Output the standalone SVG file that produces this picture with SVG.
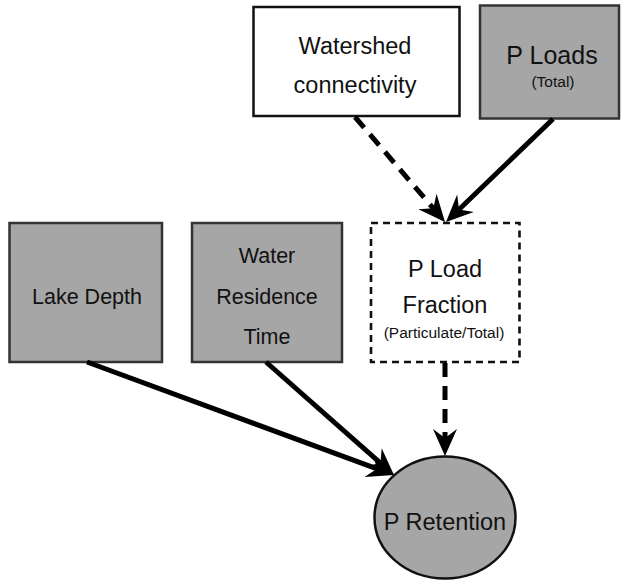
<svg xmlns="http://www.w3.org/2000/svg" width="622" height="580" viewBox="0 0 622 580">
  <style>
    .box { fill: #a6a6a6; stroke: #333; stroke-width: 2.5; }
    .plain { fill: #fff; stroke: #111; stroke-width: 2.5; }
    .dashedbox { fill: #fff; stroke: #111; stroke-width: 2.6; stroke-dasharray: 7 5; }
    .ellipse { fill: #a6a6a6; stroke: #111; stroke-width: 2.5; }
    .lbl { font-family: "Liberation Sans", Arial, Helvetica, sans-serif; fill: #111; text-anchor: middle; }
    .big { font-size: 23.5px; }
    .mid { font-size: 21.5px; }
    .small { font-size: 15.5px; }
    .link { fill: none; stroke: #000; stroke-width: 5; marker-end: url(#head); }
    .dash { stroke-dasharray: 14 9; }
  </style>
  <defs>
    <!-- notched arrowhead; reference point sits at the notch so the line ends inside the head -->
    <marker id="head" markerUnits="userSpaceOnUse" markerWidth="60" markerHeight="60" refX="0" refY="0" orient="auto" overflow="visible" viewBox="-30 -30 60 60">
      <path d="M18,0 L-9,-12 L0,0 L-9,12 Z" fill="#000"/>
    </marker>
  </defs>

  <g id="watershed">
    <rect class="plain" x="253.5" y="7" width="206" height="109"/>
    <text class="lbl big" x="355" y="54">Watershed</text>
    <text class="lbl big" x="355" y="93">connectivity</text>
  </g>

  <g id="p-loads">
    <rect class="box" x="480" y="5.5" width="139" height="113"/>
    <text class="lbl" x="552" y="64" font-size="25">P Loads</text>
    <text class="lbl small" x="553" y="87">(Total)</text>
  </g>

  <g id="lake-depth">
    <rect class="box" x="9.5" y="223" width="152.5" height="139"/>
    <text class="lbl mid" x="87" y="304">Lake Depth</text>
  </g>

  <g id="water-residence-time">
    <rect class="box" x="192" y="223" width="150" height="139"/>
    <text class="lbl mid" x="267" y="263">Water</text>
    <text class="lbl mid" x="267" y="304">Residence</text>
    <text class="lbl mid" x="267" y="344">Time</text>
  </g>

  <g id="p-load-fraction">
    <rect class="dashedbox" x="371" y="223" width="148.5" height="139"/>
    <text class="lbl big" x="445" y="277">P Load</text>
    <text class="lbl big" x="445" y="313">Fraction</text>
    <text class="lbl small" x="444" y="338">(Particulate/Total)</text>
  </g>

  <g id="p-retention">
    <ellipse class="ellipse" cx="445" cy="517.5" rx="70.5" ry="61"/>
    <text class="lbl big" x="445" y="530">P Retention</text>
  </g>

  <g id="connectors">
    <line class="link dash" x1="355" y1="117" x2="433.3" y2="208.3"/>
    <line class="link" x1="553" y1="119" x2="459" y2="209.5"/>
    <line class="link dash" x1="445" y1="363" x2="445" y2="438"/>
    <line class="link" x1="87" y1="362" x2="377.1" y2="468.8"/>
    <line class="link" x1="266" y1="362" x2="380.5" y2="463.1"/>
  </g>
</svg>
